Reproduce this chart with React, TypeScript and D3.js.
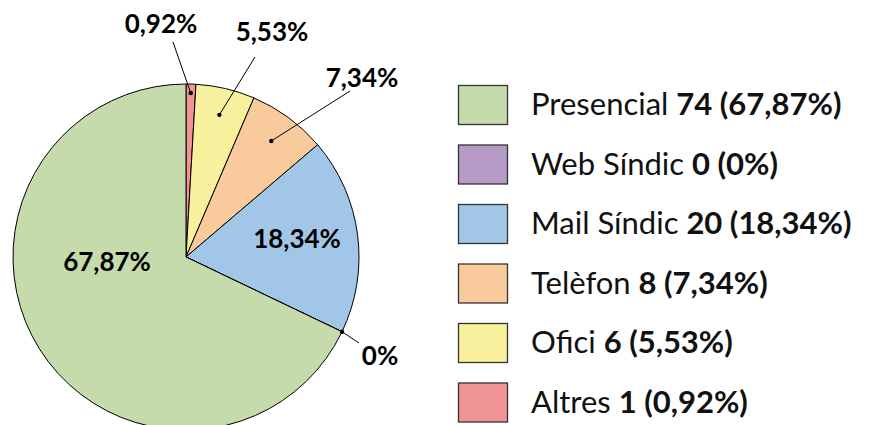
import React, { useEffect, useRef } from "react";
import * as d3 from "d3";

// legend order
const categories = ["Presencial", "Web Síndic", "Mail Síndic", "Telèfon", "Ofici", "Altres"];
const counts = [74, 0, 20, 8, 6, 1];
const percents = ["67,87%", "0%", "18,34%", "7,34%", "5,53%", "0,92%"];
const colors = ["#c5dbab", "#b59bc6", "#a2c6e7", "#f9ca9b", "#f8f09c", "#f09496"];

const W = 871;
const H = 425;
const FONT = "Lato, 'Open Sans', sans-serif";

export default function App() {
  const ref = useRef<SVGSVGElement>(null);

  useEffect(() => {
    const svg = d3.select(ref.current);
    svg.selectAll("*").remove();

    const cx = 186, cy = 257, r = 173;

    // pie runs clockwise from the top in reverse legend order
    const order = d3.range(categories.length).reverse();
    const pie = d3.pie<number>().sort(null).value((i) => counts[i]);
    const arcs = pie(order);
    const arc = d3.arc<d3.PieArcDatum<number>>().innerRadius(0).outerRadius(r);

    const g = svg.append("g").attr("transform", `translate(${cx},${cy})`);

    g.selectAll("path")
      .data(arcs)
      .enter()
      .append("path")
      .attr("d", arc)
      .attr("fill", (d) => colors[d.data])
      .attr("stroke", "#000")
      .attr("stroke-width", 1)
      .attr("stroke-linejoin", "round");

    const at = (d: d3.PieArcDatum<number>, rr: number) => {
      const a = (d.startAngle + d.endAngle) / 2;
      return [rr * Math.sin(a), -rr * Math.cos(a)];
    };
    const byIdx = (i: number) => arcs.find((a) => a.data === i)!;

    // inside labels
    const inside: [number, number, number][] = [
      [0, -79, 14],   // Presencial
      [2, 111, -9],   // Mail Síndic
    ];
    inside.forEach(([i, x, y]) => {
      g.append("text")
        .attr("x", x)
        .attr("y", y)
        .attr("text-anchor", "middle")
        .attr("font-family", FONT)
        .attr("font-weight", "bold")
        .attr("font-size", 26)
        .text(percents[i]);
    });

    // outside labels with leader lines: [idx, dot radius, line end x, y, text x, text baseline]
    const outside: [number, number, number, number, number, number][] = [
      [5, 164, -13, -215, -25, -224],
      [4, 146, 69, -200, 86, -216],
      [3, 144, 164, -166, 176, -170],
      [1, 173, 173, 86, 194, 108],
    ];
    outside.forEach(([i, rr, lx, ly, tx, ty]) => {
      const [px, py] = at(byIdx(i), rr);
      g.append("line")
        .attr("x1", px).attr("y1", py)
        .attr("x2", lx).attr("y2", ly)
        .attr("stroke", "#000")
        .attr("stroke-width", 1);
      g.append("circle").attr("cx", px).attr("cy", py).attr("r", 2.2).attr("fill", "#000");
      g.append("text")
        .attr("x", tx)
        .attr("y", ty)
        .attr("text-anchor", "middle")
        .attr("font-family", FONT)
        .attr("font-weight", "bold")
        .attr("font-size", 26)
        .text(percents[i]);
    });

    // legend
    const y = d3.scaleBand<number>().domain(d3.range(categories.length)).range([75, 432]);
    const lg = svg.append("g");
    categories.forEach((c, i) => {
      const top = y(i)! + 10;
      lg.append("rect")
        .attr("x", 458.5)
        .attr("y", top + 0.5)
        .attr("width", 49)
        .attr("height", 39)
        .attr("fill", colors[i])
        .attr("stroke", "#333")
        .attr("stroke-width", 1.3);
      const t = lg.append("text")
        .attr("x", 531)
        .attr("y", top + 30)
        .attr("font-family", FONT)
        .attr("font-size", 31)
        .attr("fill", "#111");
      t.append("tspan").text(c + " ");
      t.append("tspan").attr("font-weight", "bold").text(`${counts[i]} (${percents[i]})`);
    });
  }, []);

  return (
    <svg
      ref={ref}
      width={W}
      height={H}
      style={{ position: "absolute", left: 0, top: 0, background: "#fff" }}
    />
  );
}
